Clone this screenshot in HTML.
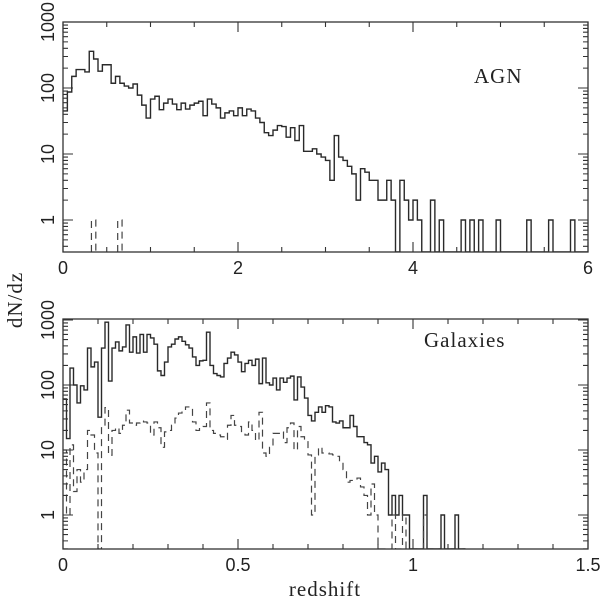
<!DOCTYPE html>
<html><head><meta charset="utf-8"><style>
html,body{margin:0;padding:0;background:#fff;}
svg{display:block;}
.tl{font-family:"Liberation Sans",sans-serif;font-size:18px;fill:#222;}
.sl{font-family:"Liberation Serif",serif;font-size:21px;fill:#222;letter-spacing:1px;}
</style></head><body>
<svg id="c" width="600" height="600" viewBox="0 0 600 600" xmlns="http://www.w3.org/2000/svg"></svg>
<script>
// AGN panel (bin width 0.05, starting at 0)
const agnSolid = [45,87,150,190,190,175,360,275,180,225,225,118,150,118,107,100,115,78,55,35,
68,75,47,59,68,57,47,59,48,55,59,63,38,68,57,50,35,42,45,38,
50,38,48,45,35,30,21,19,23,27,26,18,25,16,27,11,11,12,10,9,
8,4,19,9,8,6.5,5,2,6,5.3,4,4,2,2,4,2,0,4,2,1,
2,1,0,0,2,0,1,0,0,0,0,1,0,1,0,1,0,0,0,1,
0,0,0,0,0,0,1,0,0,0,0,1,0,0,0,0,1,0,0,0];
const agnDashedStarts = [0.325,0.625];
const agnDashedValues = [1,1];
// Galaxies panel (bin width 0.01)
const galSolid = [61,15,182,100,53,97,84,370,190,225,32,370,925,115,370,460,335,385,840,320,
550,310,600,320,600,530,425,165,140,225,385,425,510,550,470,415,370,270,200,235,
240,650,200,150,140,133,215,260,320,290,225,160,215,240,200,250,105,260,108,100,
128,84,128,110,128,137,59,133,93,63,34,28,38,46,38,48,46,27,26,28,
22,22,34,23,16,16,13,12,6.3,8,4.6,6.3,5,1,2,1,2,1,1,0,
0,0,0,2,0,0,0,0,1,0,0,0,1,0,0];
const galDashed = [10,1,12,2.3,5,3.2,5,20,17,9,0,22,45,8.3,20,22,18,24,41,26,
24,26,28,27,26,17,27,22,11,19,20,24,31,37,41,46,46,27,20,22,
23,53,20,18,17,16,14.6,24,34,24,23,18,17,27,20,14,38,9,8,11,
18,18,19,13,22,26,10,23,16,14,8.4,1,8.4,11,9,9,8.7,8.4,8,6.5,
5,3.2,3.4,3.4,3.7,2.7,2,1,3,1,0,0,0,0,1,0,0,1,0,0,
0,0,0,1,0,0,0,0,0,0,0,0,0,0,0];
const agnXTicks = ["0","2","4","6"];
const galXTicks = ["0","0.5","1","1.5"];
const yTicks = ["1","10","100","1000"];

const NS="http://www.w3.org/2000/svg";
const svg=document.getElementById('c');
function mk(tag,attrs,parent){const e=document.createElementNS(NS,tag);for(const k in attrs)e.setAttribute(k,attrs[k]);(parent||svg).appendChild(e);return e;}
const X0=63,X1=588;
const panels=[
 {name:'agn',top:22,bot:252,y1:220,dec:66,xmax:6,bw:0.05,major:2,minor:0.5,ticks:agnXTicks,label:'AGN',lx:474,ly:83},
 {name:'galaxies',top:319,bot:549,y1:515,dec:65,xmax:1.5,bw:0.01,major:0.5,minor:0.1,ticks:galXTicks,label:'Galaxies',lx:424,ly:347}
];
panels.forEach(p=>{
  p.sx=v=>X0+(X1-X0)*v/p.xmax;
  p.sy=v=>{if(v<=0)return p.bot;const y=p.y1-p.dec*Math.log10(v);return Math.min(p.bot,Math.max(p.top,y));};
});
function drawPanel(p,solid,dashed){
  const g=mk('g',{});
  
  
  const clip=mk('clipPath',{id:'clip-'+p.name},g);
  mk('rect',{x:X0,y:p.top,width:X1-X0,height:p.bot-p.top},clip);
  function stair(vals,starts,dash,nm){
    let d='';
    if(starts){
      starts.forEach((s,i)=>{const y=p.sy(vals[i]);d+=`M${p.sx(s)},${p.bot}V${y}H${p.sx(s+p.bw)}V${p.bot}`;});
    } else {
      vals.forEach((v,i)=>{const x0=p.sx(i*p.bw),x1=p.sx((i+1)*p.bw),y=p.sy(v);
        if(i===0)d+=`M${x0},${y}`;else d+=`V${y}`;d+=`H${x1}`;});
    }
    const path=mk('path',{d:d,fill:'none',stroke:dash?'#444':'#2a2a2a','stroke-width':dash?1.2:1.4,'clip-path':`url(#clip-${p.name})`},g);
    if(dash)path.setAttribute('stroke-dasharray','7,5');
    
    
  }
  stair(solid,null,false,p.name+'-solid-histogram');
  if(p.name==='agn')stair(dashed,agnDashedStarts,true,'agn-dashed-histogram');
  else stair(dashed,null,true,'galaxies-dashed-histogram');
  const fr=mk('rect',{x:X0,y:p.top,width:X1-X0,height:p.bot-p.top,fill:'none',stroke:'#333','stroke-width':1.3},g);
  
  
  let td='';
  const nmin=Math.round(p.xmax/p.minor);
  for(let i=0;i<=nmin;i++){const v=i*p.minor,x=p.sx(v);const maj=Math.abs(v/p.major-Math.round(v/p.major))<1e-6;const L=maj?10:5;
    td+=`M${x},${p.bot}v${-L}M${x},${p.top}v${L}`;}
  for(let e=-1;e<=3;e++){for(let m=1;m<=9;m++){const v=m*Math.pow(10,e);const y=p.y1-p.dec*Math.log10(v);if(y<p.top-0.5||y>p.bot+0.5)continue;const L=m===1?10:5;
    td+=`M${X0},${y}h${L}M${X1},${y}h${-L}`;}}
  const tk=mk('path',{d:td,stroke:'#333','stroke-width':1.1,fill:'none'},g);
  
  
  p.ticks.forEach((t,i)=>{const v=i*p.major;const e=mk('text',{x:p.sx(v),y:p.bot+22,'text-anchor':'middle',class:'tl'},g);e.textContent=t;
    
    });
  yTicks.forEach(t=>{const y=p.y1-p.dec*Math.log10(+t);const e=mk('text',{x:0,y:0,'text-anchor':'middle',class:'tl',transform:`translate(54,${y}) rotate(-90)`},g);e.textContent=t;
    
    });
  const lb=mk('text',{x:p.lx,y:p.ly,class:'sl'},g);lb.textContent=p.label;
  
  
}
drawPanel(panels[0],agnSolid,agnDashedValues);
drawPanel(panels[1],galSolid,galDashed);
const yl=mk('text',{x:0,y:0,'text-anchor':'middle',class:'sl',transform:'translate(22,300) rotate(-90)'});
yl.textContent='dN/dz';


const xl=mk('text',{x:325,y:596,'text-anchor':'middle',class:'sl'});
xl.textContent='redshift';


</script>
</body></html>
